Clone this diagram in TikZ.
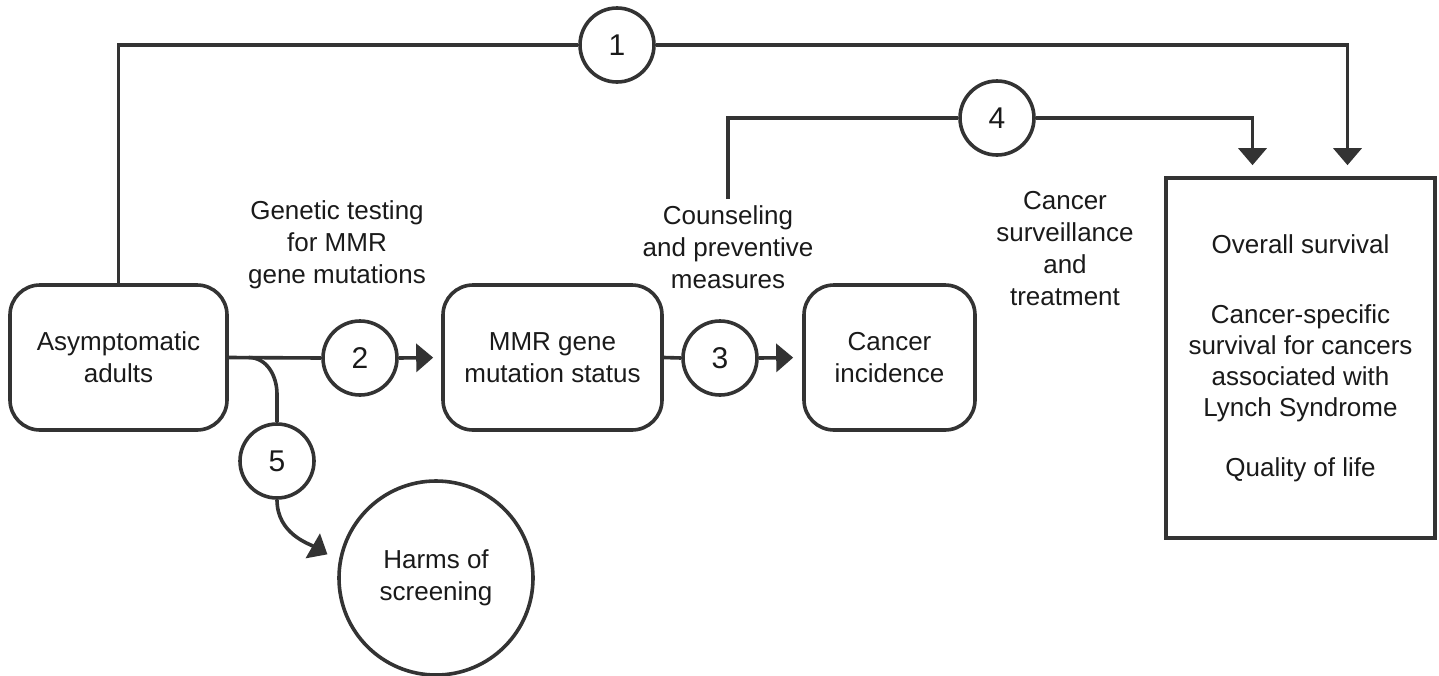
\documentclass[tikz,border=0pt]{standalone}
\usepackage{fontspec}
\setmainfont{Liberation Sans}
\usepackage{tikz}
\usetikzlibrary{arrows.meta,calc}
\definecolor{ink}{HTML}{333333}
\definecolor{txt}{HTML}{1A1A1A}
\tikzset{
  >={Triangle[width=14pt,length=8.5pt]},
  every node/.style={font=\fontsize{13}{16}\selectfont,text=txt,align=center},
  rbox/.style={draw=ink,line width=1.8pt,rounded corners=15pt,minimum height=72.5pt,inner sep=2pt},
  obox/.style={draw=ink,line width=1.8pt,minimum width=134.5pt,minimum height=180pt,inner sep=2pt},
  num/.style={draw=ink,line width=1.8pt,circle,minimum size=37pt,inner sep=0pt,font=\fontsize{15}{16}\selectfont},
  harmc/.style={draw=ink,line width=1.8pt,circle,minimum size=97pt,inner sep=0pt},
  lab/.style={inner sep=3pt},
  line/.style={draw=ink,line width=1.8pt},
  arr/.style={line,->},
}
\begin{document}
\begin{tikzpicture}[x=0.5pt,y=-0.5pt]
\useasboundingbox (0,0) rectangle (1439,675);
% boxes
\node[rbox,minimum width=108.5pt] (asym) at (118.5,357.5) {Asymptomatic\\adults};
\node[rbox,minimum width=109.5pt] (mmr) at (552.5,357.5) {MMR gene\\mutation status};
\node[rbox,minimum width=85.5pt] (inc) at (889.5,357.5) {Cancer\\incidence};
\node[obox] (out) at (1300.5,358) {Overall survival\\[19pt]Cancer-specific\\[-0.5pt]survival for cancers\\[-0.5pt]associated with\\[-0.5pt]Lynch Syndrome\\[14pt]Quality of life};
\node[harmc] (harm) at (436,578) {Harms of\\screening};
% key questions
\node[num] (c1) at (617,45) {1};
\node[num] (c2) at (360,358) {2};
\node[num] (c3) at (720,358) {3};
\node[num] (c4) at (997,118) {4};
\node[num] (c5) at (277,461) {5};
% labels
\node[lab] (lgen) at (337,245) {Genetic testing\\for MMR\\gene mutations};
\node[lab] (lcoun) at (728,247) {Counseling\\and preventive\\measures};
\node[lab] (lsurv) at (1065,249) {Cancer\\surveillance\\and\\treatment};
% connectors
\coordinate (br) at ($(asym.east)+(20,0)$);
\coordinate (o1) at ($(out.north)+(47,0)$);
\coordinate (o4) at ($(out.north)+(-48,0)$);
\draw[line] (asym.north) |- (c1.west);
\draw[arr,shorten >=5.5pt] (c1.east) -| (o1);
\draw[line] (lcoun.north) |- (c4.west);
\draw[arr,shorten >=5.5pt] (c4.east) -| (o4);
\draw[line] (asym.east) -- (c2.west);
\draw[arr,shorten >=4pt] (c2.east) -- (mmr.west);
\draw[line] (mmr.east) -- (c3.west);
\draw[arr,shorten >=4.5pt] (c3.east) -- (inc.west);
\draw[line] (br) to[out=0,in=90] ($(c5.north)+(0,-28)$) -- (c5.north);
\draw[arr,shorten >=6.5pt] (c5.south) to[out=-90,in=150] (harm.170);
\end{tikzpicture}
\end{document}
